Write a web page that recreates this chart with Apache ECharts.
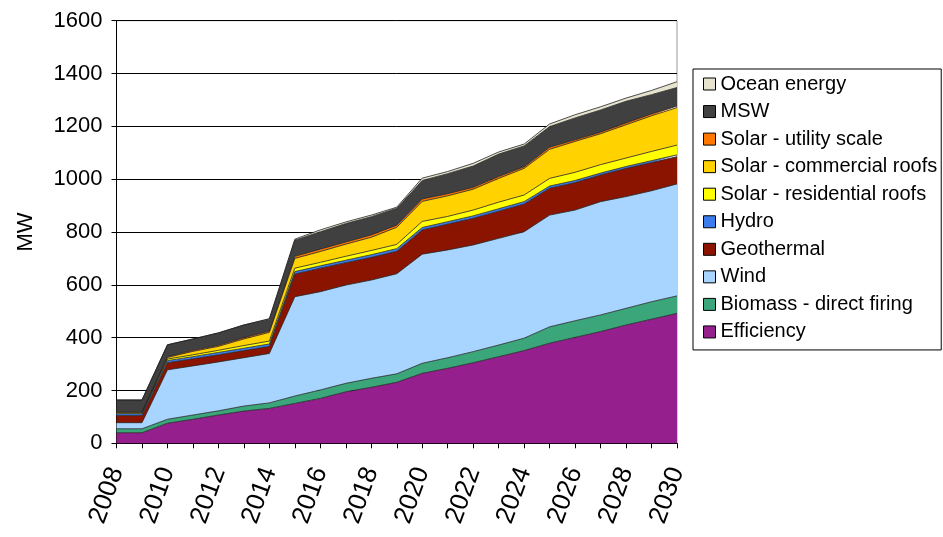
<!DOCTYPE html>
<html>
<head>
<meta charset="utf-8">
<script src="https://cdn.jsdelivr.net/npm/echarts@6/dist/echarts.min.js"></script>
<style>
  html, body { margin: 0; padding: 0; background: #fff; }
  #chart { width: 943px; height: 537px; }
</style>
</head>
<body>
<div id="chart"></div>
<script>
// years on the category axis
const years = ['2008','2009','2010','2011','2012','2013','2014','2015','2016','2017','2018','2019',
  '2020','2021','2022','2023','2024','2025','2026','2027','2028','2029','2030']

// MW per resource (stacked, bottom to top)
const efficiency = [40,40,76,91,107,122,132,151,170,195,212,231,265,284,305,328,351,379,401,423,448,470,492]
const biomass = [15,15,15,16,16,19,21,28,32,32,34,32,38,40,42,44,47,62,63,63,63,66,66]
const wind = [23,23,187,186,185,183,187,376,372,372,372,379,413,408,404,404,403,423,419,429,423,420,424]
const geothermal = [27,27,27,27,27,27,27,86,89,85,86,85,92,98,101,103,105,102,104,101,107,107,103]
const hydro = [7,7,8,8,9,9,9,9,9,9,10,10,9,9,9,9,9,8,8,7,7,7,7]
const solarRes = [3,3,6,7,8,10,11,13,13,15,16,16,23,20,22,25,25,29,31,32,32,35,37]
const solarCom = [3,3,6,13,15,25,33,37,41,46,50,65,76,78,79,90,101,110,117,117,126,135,142]
const solarUtil = [1,1,3,4,4,5,5,8,9,8,9,8,9,8,7,7,6,8,6,6,7,7,6]
const msw = [45,45,45,43,47,48,45,61,66,70,69,64,70,76,81,85,79,78,83,84,82,73,70]
const ocean = [0,0,0,0,0,0,2,4,7,6,6,4,9,8,10,8,7,10,12,12,12,16,22]

const yTicks = [0, 200, 400, 600, 800, 1000, 1200, 1400, 1600]

const layers = [
  ['Efficiency', efficiency, '#951f8d'],
  ['Biomass - direct firing', biomass, '#3aa67a'],
  ['Wind', wind, '#a8d5ff'],
  ['Geothermal', geothermal, '#8b1400'],
  ['Hydro', hydro, '#3b7cee'],
  ['Solar - residential roofs', solarRes, '#ffff00'],
  ['Solar - commercial roofs', solarCom, '#ffd200'],
  ['Solar - utility scale', solarUtil, '#ff7800'],
  ['MSW', msw, '#404040'],
  ['Ocean energy', ocean, '#e6e4cf']
]

const font = 'Liberation Sans, Arial, sans-serif'
const chart = echarts.init(document.getElementById('chart'))

const option = {
  animation: false,
  backgroundColor: '#fff',
  textStyle: { fontFamily: font },
  grid: {
    left: 116.5, right: 266, top: 20.7, bottom: 93.7,
    show: true, borderColor: '#999', borderWidth: 1, backgroundColor: '#fff'
  },
  legend: {
    orient: 'vertical',
    left: 693, top: 69,
    padding: [5, 4, 8, 10],
    itemGap: 7.55,
    itemWidth: 12, itemHeight: 12,
    icon: 'rect',
    borderColor: '#000', borderWidth: 1,
    itemStyle: { borderColor: '#000', borderWidth: 1 },
    textStyle: { fontFamily: font, fontSize: 20, color: '#000', lineHeight: 20 },
    data: layers.map(l => l[0]).reverse()
  },
  xAxis: {
    type: 'category',
    data: years,
    boundaryGap: false,
    axisLine: { lineStyle: { color: '#000', width: 1 } },
    axisTick: { show: true, interval: 0, length: 5, lineStyle: { color: '#000' } },
    axisLabel: { interval: 1, rotate: 70, fontSize: 26, color: '#000', margin: 25, fontFamily: font },
    splitLine: { show: false }
  },
  yAxis: {
    type: 'value',
    min: yTicks[0], max: yTicks[yTicks.length - 1], interval: 200,
    name: 'MW', nameLocation: 'middle', nameGap: 80,
    nameTextStyle: { fontSize: 22, color: '#000', fontFamily: font },
    axisLine: { show: true, lineStyle: { color: '#000', width: 1 } },
    axisTick: { show: true, length: 5, lineStyle: { color: '#000' } },
    axisLabel: { fontSize: 22, color: '#000', margin: 14, fontFamily: font, formatter: v => String(v) },
    splitLine: { show: true, lineStyle: { color: '#000', width: 1 } }
  },
  series: layers.map(([name, data, color]) => ({
    name: name,
    type: 'line',
    stack: 'total',
    data: data,
    symbol: 'none',
    color: color,
    lineStyle: { color: '#222', width: 0.8 },
    areaStyle: { color: color, opacity: 1 },
    emphasis: { disabled: true }
  }))
}
chart.setOption(option)
</script>
</body>
</html>
